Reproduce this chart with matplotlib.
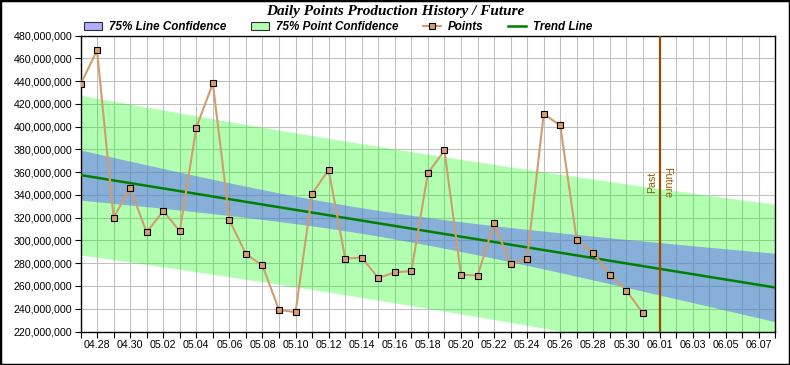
import matplotlib
matplotlib.use('Agg')
import matplotlib.pyplot as plt
import matplotlib.dates as mdates
from matplotlib.patches import Patch, Rectangle
from matplotlib.lines import Line2D
import numpy as np
import pandas as pd

# daily points (millions), 04.27 - 05.31
dates = pd.date_range('2024-04-27', '2024-05-31', freq='D')
points = [437, 467, 320, 346, 307, 326, 308, 399, 438, 318,
          288, 278, 239, 237, 341, 362, 284, 285, 267, 272,
          273, 359, 379, 270, 269, 315, 279, 284, 411, 401,
          300, 289, 270, 256, 236]
split_date = pd.Timestamp('2024-06-01')      # past / future boundary
end_date = pd.Timestamp('2024-06-08')
tick_dates = pd.date_range('2024-04-28', '2024-06-07', freq='2D')
y_ticks = list(range(220, 481, 20))
t_75 = 1.166                                  # student t, 75% two sided, 33 dof

plt.rcParams['font.family'] = ['Liberation Sans', 'DejaVu Sans']

# linear regression + confidence bands
x = mdates.date2num(dates)
y = np.array(points, dtype=float)
n = len(x)
slope, icpt = np.polyfit(x, y, 1)
resid = y - (slope * x + icpt)
s = np.sqrt((resid ** 2).sum() / (n - 2))
sxx = ((x - x.mean()) ** 2).sum()
xx = np.linspace(x[0], mdates.date2num(end_date), 500)
fit = slope * xx + icpt
hw_line = t_75 * s * np.sqrt(1 / n + (xx - x.mean()) ** 2 / sxx)
hw_pt = t_75 * s * np.sqrt(1 + 1 / n + (xx - x.mean()) ** 2 / sxx)

fig = plt.figure(figsize=(7.9, 3.65), dpi=100)
ax = fig.add_axes([80.5 / 790, 1 - 331.5 / 365, 694.8 / 790, 296 / 365])

green = (0, 1, 0, 0.3)
blue = (93 / 255, 96 / 255, 253 / 255, 0.5)
ax.fill_between(xx, fit - hw_pt, fit + hw_pt, color=green, lw=0, zorder=1)
ax.fill_between(xx, fit - hw_line, fit + hw_line, color=blue, lw=0, zorder=1.1)
ax.plot(xx, fit, color='#008000', lw=1.8, zorder=3)
ax.plot(x, y, color='#d29c6c', lw=1.5, marker='s', ms=5, mfc='#d89f6e',
        mec='black', mew=0.8, zorder=5)

split = mdates.date2num(split_date)
ax.axvline(split, color='#994c00', lw=1.6, zorder=4)
ax.annotate('Past', xy=(split, 351), xytext=(-2, 0), textcoords='offset points',
            rotation=90, ha='right', va='center', color='#9a5800', fontsize=7.7, zorder=6)
ax.annotate('Future', xy=(split, 351), xytext=(2, 0), textcoords='offset points',
            rotation=270, ha='left', va='center', color='#9a5800', fontsize=7.7, zorder=6)

ax.set_xlim(x[0], mdates.date2num(end_date))
ax.set_ylim(220, 480)
ax.set_yticks(y_ticks)
ax.yaxis.set_major_formatter(plt.FuncFormatter(lambda v, p: f'{v * 1e6:,.0f}'))
ax.set_xticks(mdates.date2num(tick_dates))
ax.xaxis.set_major_formatter(mdates.DateFormatter('%m.%d'))
ax.xaxis.set_minor_locator(mdates.DayLocator())
ax.tick_params(which='both', length=4, width=0.8, labelsize=7.7, pad=2)
ax.set_axisbelow(True)
ax.grid(True, which='both', color='#c0c0c0', lw=0.75)
for sp in ax.spines.values():
    sp.set_linewidth(1)

fig.text(0.5, 1 - 11 / 365, 'Daily Points Production History / Future', ha='center', va='center',
         family='Liberation Serif', style='italic', weight='bold', size=11)

handles = [
    Patch(facecolor='#aeaffe', edgecolor='#303030', lw=0.8, label='75% Line Confidence'),
    Patch(facecolor='#b3ffb3', edgecolor='#303030', lw=0.8, label='75% Point Confidence'),
    Line2D([], [], color='#d29c6c', lw=1.5, marker='s', ms=5, mfc='#d89f6e', mec='black',
           mew=0.8, label='Points'),
    Line2D([], [], color='#008000', lw=1.8, label='Trend Line'),
]
fig.legend(handles=handles, loc='center left', bbox_to_anchor=(84 / 790, 1 - 27 / 365), ncol=4,
           frameon=False, prop={'weight': 'bold', 'style': 'italic', 'size': 8.4},
           handlelength=1.55, handleheight=0.7, columnspacing=2.1, handletextpad=0.6,
           borderaxespad=0, borderpad=0)

fig.patches.append(Rectangle((0, 0), 1, 1, transform=fig.transFigure, fill=False,
                             lw=2.5, edgecolor='black'))

fig.savefig('out.png', dpi=100)
